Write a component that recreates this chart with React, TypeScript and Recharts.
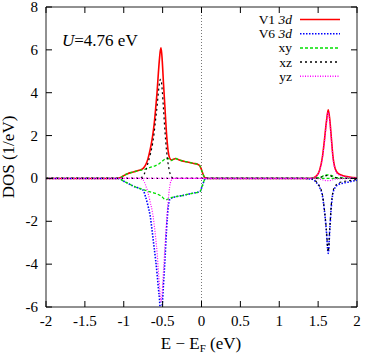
import React from "react";
import { LineChart, Line, XAxis, YAxis, ReferenceLine } from "recharts";

// energy grid (eV, relative to E_F)
const energy = [
  -2, -1.2, -1.08, -1.04, -1.0, -0.95, -0.9, -0.85, -0.8, -0.75, -0.72, -0.69, -0.66, -0.63, -0.61,
  -0.59, -0.57, -0.555, -0.54, -0.53, -0.52, -0.505, -0.49, -0.47, -0.45, -0.43, -0.41, -0.39, -0.36,
  -0.33, -0.3, -0.25, -0.2, -0.15, -0.1, -0.05, -0.02, 0.01, 0.04, 0.08, 0.2,
  1.3, 1.42, 1.48, 1.52, 1.555, 1.58, 1.605, 1.63, 1.65, 1.67, 1.69, 1.72, 1.76, 1.82, 1.9, 2.0,
];

const v1Total = [
  0, 0, 0, 0.04, 0.13, 0.22, 0.28, 0.33, 0.38, 0.47, 0.62, 0.9, 1.35, 1.95, 2.5, 3.25, 4.1, 4.9, 5.6,
  5.95, 6.1, 5.5, 4.5, 3.3, 2.1, 1.3, 0.95, 0.86, 0.9, 0.93, 0.88, 0.82, 0.78, 0.74, 0.7, 0.66, 0.58,
  0.3, 0.05, 0, 0,
  0, 0.01, 0.12, 0.4, 1.0, 1.75, 2.6, 3.2, 2.75, 1.9, 1.05, 0.45, 0.22, 0.13, 0.07, 0.03,
];

const v6Total = [
  0, 0, 0, -0.04, -0.13, -0.22, -0.32, -0.4, -0.46, -0.55, -0.85, -1.25, -1.75, -2.6, -3.2, -3.8, -4.5,
  -5.1, -5.65, -6.2, -6.4, -5.9, -5.0, -3.8, -2.4, -1.4, -1.0, -0.93, -0.88, -0.86, -0.83, -0.8, -0.76,
  -0.72, -0.68, -0.65, -0.62, -0.35, -0.06, 0, 0,
  0, -0.03, -0.2, -0.42, -0.8, -1.48, -2.4, -3.5, -2.4, -1.3, -0.7, -0.42, -0.29, -0.22, -0.16, -0.08,
];

const xyUp = [
  0, 0, 0, 0.04, 0.13, 0.22, 0.28, 0.33, 0.37, 0.41, 0.44, 0.48, 0.52, 0.55, 0.57, 0.6, 0.63, 0.66, 0.7,
  0.73, 0.76, 0.8, 0.85, 0.9, 0.93, 0.93, 0.88, 0.83, 0.9, 0.93, 0.88, 0.82, 0.78, 0.74, 0.7, 0.66, 0.58,
  0.3, 0.05, 0, 0,
  0, 0, 0.02, 0.05, 0.1, 0.14, 0.16, 0.17, 0.16, 0.14, 0.1, 0.05, 0.03, 0.02, 0.01, 0,
];

const xyDn = [
  0, 0, 0, -0.04, -0.13, -0.22, -0.32, -0.4, -0.46, -0.52, -0.56, -0.6, -0.63, -0.66, -0.68, -0.7, -0.72,
  -0.75, -0.78, -0.8, -0.83, -0.87, -0.92, -0.97, -0.99, -0.97, -0.93, -0.9, -0.87, -0.85, -0.83, -0.8,
  -0.76, -0.72, -0.68, -0.65, -0.62, -0.35, -0.06, 0, 0,
  0, 0, 0, 0, 0, 0, 0, 0, 0, 0, 0, 0, 0, 0, 0, 0,
];

const xzUp = [
  0, 0, 0, 0, 0, 0, 0, 0, 0, 0.12, 0.35, 0.7, 1.1, 1.6, 2.1, 2.75, 3.4, 4.0, 4.45, 4.62, 4.6, 4.1, 3.3,
  2.2, 1.3, 0.7, 0.3, 0.1, 0, 0, 0, 0, 0, 0, 0, 0, 0, 0, 0, 0, 0,
  0, 0, 0.01, 0.04, 0.08, 0.11, 0.13, 0.14, 0.13, 0.11, 0.08, 0.04, 0.02, 0.01, 0, 0,
];

const xzDn = [
  0, 0, 0, 0, 0, 0, 0, 0, 0, 0, 0, 0, 0, 0, 0, 0, 0, 0, 0, 0, 0, 0, 0, 0, 0, 0, 0, 0, 0, 0, 0, 0, 0, 0,
  0, 0, 0, 0, 0, 0, 0,
  0, -0.02, -0.17, -0.38, -0.75, -1.42, -2.33, -3.42, -2.33, -1.22, -0.62, -0.35, -0.22, -0.15, -0.1, -0.05,
];

const yzUp = [
  0, 0, 0, 0, 0, 0, 0, 0, 0, 0, 0, 0, 0, 0, 0, 0, 0, 0, 0, 0, 0, 0, 0, 0, 0, 0, 0, 0, 0, 0, 0, 0, 0, 0,
  0, 0, 0, 0, 0, 0, 0,
  0, 0.01, 0.11, 0.37, 0.93, 1.65, 2.5, 3.08, 2.65, 1.8, 0.98, 0.4, 0.18, 0.1, 0.05, 0.02,
];

const yzDn = [
  0, 0, 0, 0, 0, 0, 0, 0, 0, -0.08, -0.3, -0.65, -1.1, -1.6, -2.1, -2.75, -3.5, -4.3, -5.0, -5.5, -5.75,
  -5.3, -4.4, -3.2, -2.1, -1.1, -0.4, -0.1, 0, 0, 0, 0, 0, 0, 0, 0, 0, 0, 0, 0, 0,
  0, 0, -0.01, -0.03, -0.06, -0.09, -0.1, -0.1, -0.1, -0.09, -0.06, -0.03, -0.02, -0.01, 0, 0,
];

const xTicks = [-2, -1.5, -1, -0.5, 0, 0.5, 1, 1.5, 2];
const yTicks = [-6, -4, -2, 0, 2, 4, 6, 8];

const W = 365;
const H = 355;
const PLOT = { left: 46, right: 357, top: 7, bottom: 307 };
const FONT = "Liberation Serif, DejaVu Serif, serif";

const data = energy.map((e, i) => ({
  e,
  v1: v1Total[i],
  v6: v6Total[i],
  xyUp: xyUp[i],
  xyDn: xyDn[i],
  xzUp: xzUp[i],
  xzDn: xzDn[i],
  yzUp: yzUp[i],
  yzDn: yzDn[i],
}));

const RED = "#ff0000";
const BLUE = "#0000ff";
const GREEN = "#00e000";
const BLACK = "#000000";
const MAGENTA = "#ff00ff";

// draw order follows the original: totals first, orbitals on top
const SERIES = [
  { key: "v1", color: RED, dash: undefined, width: 1.6 },
  { key: "v6", color: BLUE, dash: "1.5 1.5", width: 1.6 },
  { key: "xyUp", color: GREEN, dash: "3 2", width: 1.3 },
  { key: "xyDn", color: GREEN, dash: "3 2", width: 1.3 },
  { key: "xzUp", color: BLACK, dash: "2 3", width: 1.2 },
  { key: "xzDn", color: BLACK, dash: "2 3", width: 1.2 },
  { key: "yzUp", color: MAGENTA, dash: "1 1.5", width: 1.2 },
  { key: "yzDn", color: MAGENTA, dash: "1 1.5", width: 1.2 },
];

const LEGEND = [
  { label: "V1", italic: "3d", color: RED, dash: undefined },
  { label: "V6", italic: "3d", color: BLUE, dash: "1.5 1.5" },
  { label: "xy", italic: "", color: GREEN, dash: "3 2" },
  { label: "xz", italic: "", color: BLACK, dash: "2 3" },
  { label: "yz", italic: "", color: MAGENTA, dash: "1 1.5" },
];

const txt = { fontFamily: FONT };

const XTick = ({ x, payload }: any) => (
  <g>
    <line x1={x} x2={x} y1={PLOT.bottom} y2={PLOT.bottom - 6} stroke="#000" />
    <line x1={x} x2={x} y1={PLOT.top} y2={PLOT.top + 6} stroke="#000" />
    <text x={x} y={PLOT.bottom + 19} textAnchor="middle" style={txt} fontSize={15} fill="#000">
      {payload.value}
    </text>
  </g>
);

const YTick = ({ y, payload }: any) => (
  <g>
    <line x1={PLOT.left} x2={PLOT.left + 6} y1={y} y2={y} stroke="#000" />
    <line x1={PLOT.right} x2={PLOT.right - 6} y1={y} y2={y} stroke="#000" />
    <text x={38} y={y + 5} textAnchor="end" style={txt} fontSize={15} fill="#000">
      {payload.value}
    </text>
  </g>
);

export default function App() {
  return (
    <div style={{ position: "absolute", left: 0, top: 0, width: W, height: H, background: "#fff" }}>
      <LineChart width={W} height={H} data={data} margin={{ top: 7, right: 8, bottom: 0, left: 0 }}>
        <XAxis
          dataKey="e"
          type="number"
          domain={[-2, 2]}
          ticks={xTicks}
          allowDataOverflow
          height={48}
          tickLine={false}
          tick={<XTick />}
          axisLine={{ stroke: "#222" }}
          interval={0}
        />
        <YAxis
          type="number"
          domain={[-6, 8]}
          ticks={yTicks}
          allowDataOverflow
          width={46}
          tickLine={false}
          tick={<YTick />}
          axisLine={{ stroke: "#222" }}
          interval={0}
        />
        <ReferenceLine y={8} stroke="#222" />
        <ReferenceLine x={2} stroke="#222" />
        <ReferenceLine x={0} stroke="#777" strokeDasharray="1 2" />
        {SERIES.map((s) => (
          <Line
            key={s.key}
            dataKey={s.key}
            type="monotone"
            stroke={s.color}
            strokeWidth={s.width}
            strokeDasharray={s.dash}
            dot={false}
            activeDot={false}
            isAnimationActive={false}
          />
        ))}
      </LineChart>
      <svg
        width={W}
        height={H}
        style={{ position: "absolute", left: 0, top: 0, pointerEvents: "none" }}
      >
        {LEGEND.map((l, i) => {
          const y = 19.5 + i * 14.2;
          return (
            <g key={l.label}>
              <text x={292} y={y + 4.5} textAnchor="end" style={txt} fontSize={13.5} fill="#000">
                {l.label}
                {l.italic ? <tspan fontStyle="italic"> {l.italic}</tspan> : null}
              </text>
              <line
                x1={300}
                x2={340}
                y1={y}
                y2={y}
                stroke={l.color}
                strokeWidth={1.5}
                strokeDasharray={l.dash}
              />
            </g>
          );
        })}
        <text x={62} y={46} style={txt} fontSize={17} fill="#000">
          <tspan fontStyle="italic">U</tspan>=4.76 eV
        </text>
        <text
          x={0}
          y={0}
          transform="translate(14,157) rotate(-90)"
          textAnchor="middle"
          style={txt}
          fontSize={17}
          fill="#000"
        >
          DOS (1/eV)
        </text>
        <text x={201} y={349} textAnchor="middle" style={txt} fontSize={17} fill="#000">
          E − E
          <tspan fontSize={11} dy={3}>F</tspan>
          <tspan dy={-3}> (eV)</tspan>
        </text>
      </svg>
    </div>
  );
}
